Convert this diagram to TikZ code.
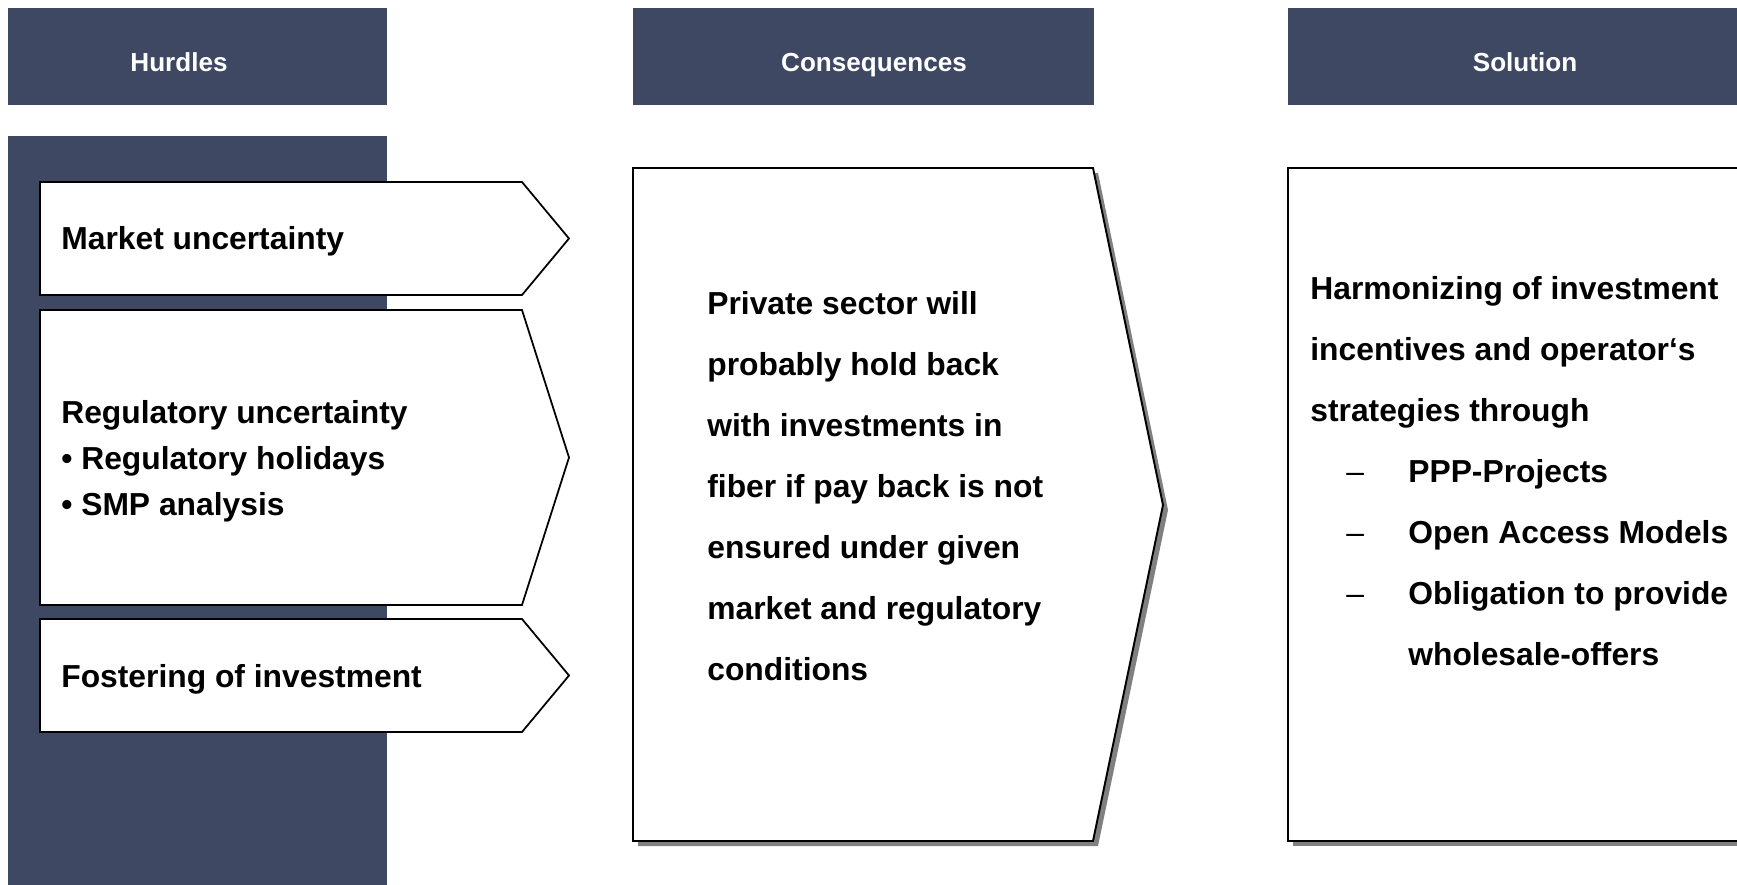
\documentclass[tikz,border=0pt]{standalone}
\usepackage{fontspec}
\setmainfont{Liberation Sans}
\definecolor{headblue}{RGB}{62,72,99}
\definecolor{shadegray}{RGB}{128,128,128}
\newcommand{\listdash}{\makebox[1.96cm][l]{\hspace{0.72cm}{\mdseries –}}}
\tikzset{
  headbar/.style={fill=headblue},
  headtext/.style={text=white, font=\fontsize{14.85}{18}\selectfont\bfseries, inner sep=0pt, anchor=base},
  hurdlebox/.style={draw=black, fill=white, line width=1pt},
  bigbox/.style={draw=black, fill=white, line width=1.1pt},
  shade/.style={fill=shadegray},
  itemtext/.style={font=\fontsize{18.1}{26.1}\selectfont\bfseries, align=left, inner sep=0pt, anchor=base west},
  bodytext/.style={font=\fontsize{18.1}{34.75}\selectfont\bfseries, align=left, inner sep=0pt, anchor=base west},
}
\begin{document}
\begin{tikzpicture}[x=0.02cm, y=-0.02cm]
\useasboundingbox (0,0) rectangle (1737,885);
\clip (0,0) rectangle (1737,885);

% Headers
\fill[headbar] (8,8) rectangle (387,105);
\fill[headbar] (633,8) rectangle (1094,105);
\fill[headbar] (1288,8) rectangle (1760,105);
\node[headtext] (hurdles) at (179,71.5) {Hurdles};
\node[headtext] (consequences) at (874,71.5) {Consequences};
\node[headtext] (solution) at (1525,71.5) {Solution};

% Hurdles column
\fill[headbar] (8,136) rectangle (387,885);
\draw[hurdlebox] (40,182) -- (522,182) -- (569,238.5) -- (522,295) -- (40,295) -- cycle;
\draw[hurdlebox] (40,310) -- (522,310) -- (569,457.5) -- (522,605) -- (40,605) -- cycle;
\draw[hurdlebox] (40,619) -- (522,619) -- (569,675.5) -- (522,732) -- (40,732) -- cycle;
\node[itemtext] (market) at (61,250) {Market uncertainty};
% base anchor sits on the last line
\node[itemtext] (regulatory) at (61,515) {Regulatory uncertainty\\\textbullet{} Regulatory holidays\\\textbullet{} SMP analysis};
\node[itemtext] (fostering) at (61,687) {Fostering of investment};

% Consequences arrow
\fill[shade] (638,173) -- (1098,173) -- (1168,510) -- (1098,846) -- (638,846) -- cycle;
\draw[bigbox] (633,168) -- (1093,168) -- (1163,505) -- (1093,841) -- (633,841) -- cycle;
\node[bodytext] (privsector) at (707,680.5) {Private sector will\\probably hold back\\with investments in\\fiber if pay back is not\\ensured under given\\market and regulatory\\conditions};

% Solution box
\fill[shade] (1293,173) rectangle (1765,846);
\draw[bigbox] (1288,168) rectangle (1760,841);
\node[bodytext] (harmonizing) at (1310,665.5) {Harmonizing of investment\\incentives and operator‘s\\strategies through\\\listdash PPP-Projects\\\listdash Open Access Models\\\listdash Obligation to provide\\\hspace*{1.96cm}wholesale-offers};

\end{tikzpicture}
\end{document}
